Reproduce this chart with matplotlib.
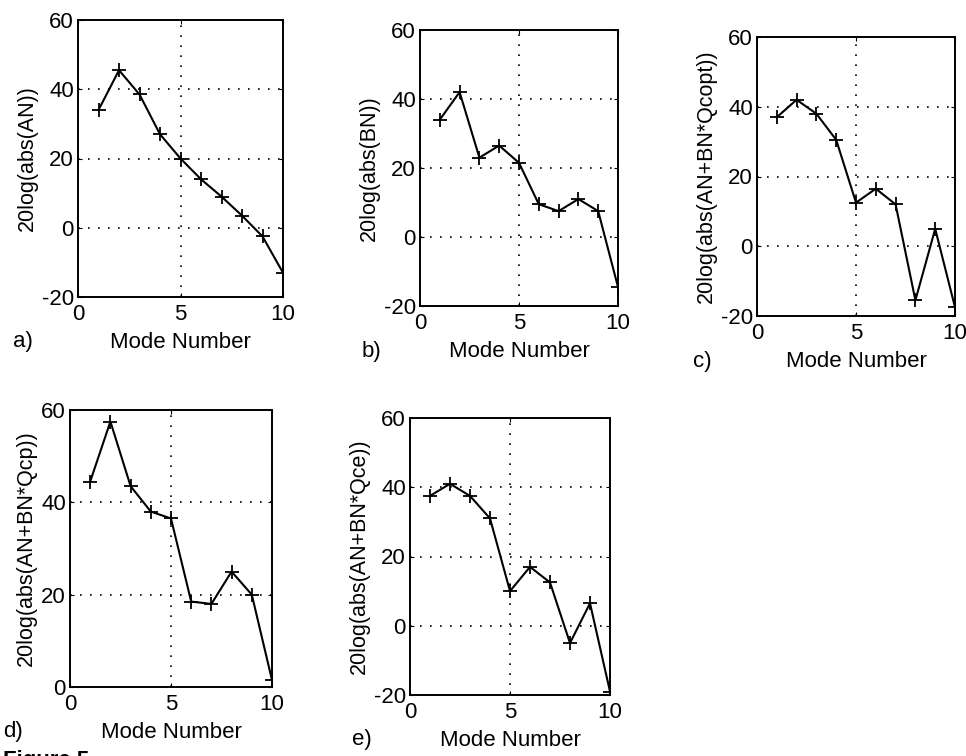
import numpy as np
import matplotlib
matplotlib.use('Agg')
import matplotlib.pyplot as plt

plt.rcParams['font.family'] = ['Liberation Sans', 'DejaVu Sans']
plt.rcParams['axes.unicode_minus'] = False

modes = [1, 2, 3, 4, 5, 6, 7, 8, 9, 10]

an = [34, 45.5, 38.5, 27, 20, 14, 9, 3.5, -2.5, -13]
bn = [34, 42, 23, 26.5, 21.5, 9.5, 7.5, 11, 7.5, -14.5]
qcopt = [37, 42, 38, 30.5, 12.5, 16.5, 12, -15.5, 5, -17.5]
qcp = [44.5, 57.5, 43.5, 38, 36.5, 18.5, 18, 25, 20, 1.5]
qce = [37.5, 41, 37.5, 31, 10, 17, 12.5, -5, 6.5, -19]

ylabels = ['20log(abs(AN))', '20log(abs(BN))', '20log(abs(AN+BN*Qcopt))',
           '20log(abs(AN+BN*Qcp))', '20log(abs(AN+BN*Qce))']
letters = ['a)', 'b)', 'c)', 'd)', 'e)']
series = [an, bn, qcopt, qcp, qce]
ylims = [(-20, 60), (-20, 60), (-20, 60), (0, 60), (-20, 60)]
yticks = [[-20, 0, 20, 40, 60]] * 3 + [[0, 20, 40, 60]] + [[-20, 0, 20, 40, 60]]

# axes boxes in pixels (left, top, right, bottom), letter x offset
boxes = [(78, 20, 283, 297), (420, 30, 618, 306), (757, 37, 955, 316),
         (70, 410, 272, 687), (410, 418, 610, 695)]
letter_dx = [-65, -58, -64, -67, -58]

W, H = 966, 756
fig = plt.figure(figsize=(W/100, H/100), dpi=100)

for i in range(5):
    l, t, r, b = boxes[i]
    ax = fig.add_axes([l/W, (H-b)/H, (r-l)/W, (b-t)/H])
    ax.plot(modes, series[i], color='black', lw=1.5, marker='+', ms=10, mew=1.3)
    ax.set_xlim(0, 10)
    ax.set_ylim(*ylims[i])
    ax.set_xticks([0, 5, 10])
    ax.set_yticks(yticks[i])
    ax.grid(True, color='black', linestyle=(0, (1, 5)), lw=1.2)
    ax.tick_params(direction='in', length=3, labelsize=16, top=True, right=True)
    ax.tick_params(axis='x', pad=5)
    ax.tick_params(axis='y', pad=3)
    for sp in ax.spines.values():
        sp.set_linewidth(1.4)
    ax.set_ylabel(ylabels[i], fontsize=15.5, labelpad=3)
    ax.set_xlabel('Mode Number', fontsize=16, labelpad=5)
    fig.text((l + letter_dx[i])/W, (H - b - 45)/H, letters[i], fontsize=16, va='center')

fig.text(0.003, -0.006, 'Figure 5', fontsize=16, fontweight='bold', va='center')

fig.savefig('out.png', dpi=100)
